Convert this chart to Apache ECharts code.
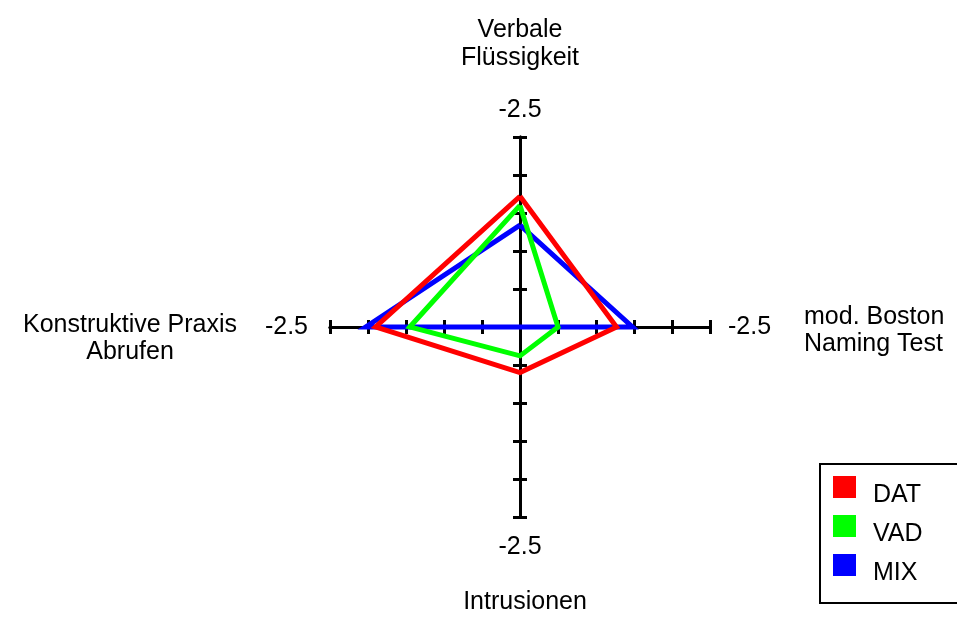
<!DOCTYPE html>
<html>
<head>
<meta charset="utf-8">
<title>Radar: DAT / VAD / MIX</title>
<script src="https://cdn.jsdelivr.net/npm/echarts@6/dist/echarts.min.js"></script>
<style>
  html, body { margin: 0; padding: 0; background: #fff; }
  #chart { width: 957px; height: 617px; }
</style>
</head>
<body>
<div id="chart"></div>
<script>
// Axis categories, in drawing order (top, left, bottom, right)
const categories = [
  'Verbale\nFlüssigkeit',
  'Konstruktive Praxis\nAbrufen',
  'Intrusionen',
  'mod. Boston\nNaming Test'
];

// Scale: centre is 0, each spoke ends at -2.5
const axisStart = 0;
const axisEnd = -2.5;
const axisSteps = 5;

// Group scores per category (same order as categories)
const seriesNames = ['DAT', 'VAD', 'MIX'];
const datValues = [-1.72, -1.90, -0.60, -1.27];
const vadValues = [-1.60, -1.45, -0.38, -0.50];
const mixValues = [-1.34, -2.03, 0.00, -1.48];
const seriesColors = ['#ff0000', '#00ff00', '#0000ff'];

const FONT = '"Liberation Sans", Arial, sans-serif';
const FS = 25;
const center = [520, 327];
const radius = 190;

// Spokes run outward toward more negative values
const depth = v => axisStart - v;
const indicators = categories.map(name => ({ name, min: 0, max: depth(axisEnd) }));

// Side of each spoke: top, left, bottom, right
const sides = ['t', 'l', 'b', 'r'];
const sideOf = name => sides[categories.indexOf(name)] || 't';

const txt = extra => Object.assign({ fontFamily: FONT, fontSize: FS, color: '#000' }, extra);

const radarBase = {
  center: center,
  radius: radius,
  startAngle: 90,
  shape: 'polygon',
  splitNumber: axisSteps,
  indicator: indicators,
  splitLine: { show: false },
  splitArea: { show: false },
  axisLabel: { show: false }
};

const chart = echarts.init(document.getElementById('chart'), null, { renderer: 'canvas' });

chart.setOption({
  backgroundColor: '#ffffff',
  animation: false,
  legend: {
    orient: 'vertical',
    left: 820,
    top: 464,
    data: seriesNames,
    icon: 'rect',
    itemWidth: 23,
    itemHeight: 22,
    itemGap: 7,
    padding: [12, 60, 17, 13],
    borderColor: '#000',
    borderWidth: 2,
    borderRadius: 0,
    formatter: name => '{a|' + name + '}',
    textStyle: txt({
      rich: { a: txt({ lineHeight: 42, verticalAlign: 'bottom', padding: [0, 0, 0, 12] }) }
    })
  },
  radar: [
    // Spokes, ticks on one side, and the end value of each spoke
    Object.assign({}, radarBase, {
      axisLine: { show: true, lineStyle: { color: '#000', width: 3 } },
      axisTick: { show: true, length: 7, lineStyle: { color: '#000', width: 3 } },
      axisName: {
        formatter: name => '{' + sideOf(name) + '|' + axisEnd.toFixed(1) + '}',
        color: '#000',
        fontFamily: FONT,
        fontSize: FS,
        rich: {
          t: txt({}),
          l: txt({ padding: [0, 8, 0, 0] }),
          b: txt({ padding: [4, 0, 0, 0] }),
          r: txt({ padding: [0, 0, 0, 4] })
        }
      },
      nameGap: 14
    }),
    // Ticks on the other side, and the category names
    Object.assign({}, radarBase, {
      axisLine: { show: true, lineStyle: { color: '#000', width: 3 } },
      axisTick: { show: true, length: -7, lineStyle: { color: '#000', width: 3 } },
      axisName: {
        formatter: function (name) {
          const side = sideOf(name);
          return name.split('\n').map((s, i) => {
            const tag = (side === 'l' || side === 'r') ? side + (i === 0 ? '1' : '2') : side;
            return '{' + tag + '|' + s + '}';
          }).join('\n');
        },
        color: '#000',
        fontFamily: FONT,
        fontSize: FS,
        rich: {
          t: txt({ align: 'center', lineHeight: 28 }),
          b: txt({ align: 'center', lineHeight: 33, verticalAlign: 'bottom', padding: [0, 0, 0, 10] }),
          l1: txt({ align: 'center', lineHeight: 50, verticalAlign: 'bottom', padding: [0, 28, 0, 0] }),
          l2: txt({ align: 'center', lineHeight: 28, padding: [0, 28, 0, 0] }),
          r1: txt({ align: 'left', lineHeight: 34, verticalAlign: 'bottom', padding: [0, 0, 0, 29] }),
          r2: txt({ align: 'left', lineHeight: 28, padding: [0, 0, 0, 29] })
        }
      },
      nameGap: 65
    })
  ],
  series: [datValues, vadValues, mixValues].map((vals, i) => ({
    type: 'radar',
    radarIndex: 0,
    name: seriesNames[i],
    z: 5 - i,
    symbol: 'none',
    silent: true,
    lineStyle: { color: seriesColors[i], width: 5, join: 'miter', miterLimit: 10 },
    itemStyle: { color: seriesColors[i] },
    data: [{ name: seriesNames[i], value: vals.map(depth) }]
  }))
});
</script>
</body>
</html>
